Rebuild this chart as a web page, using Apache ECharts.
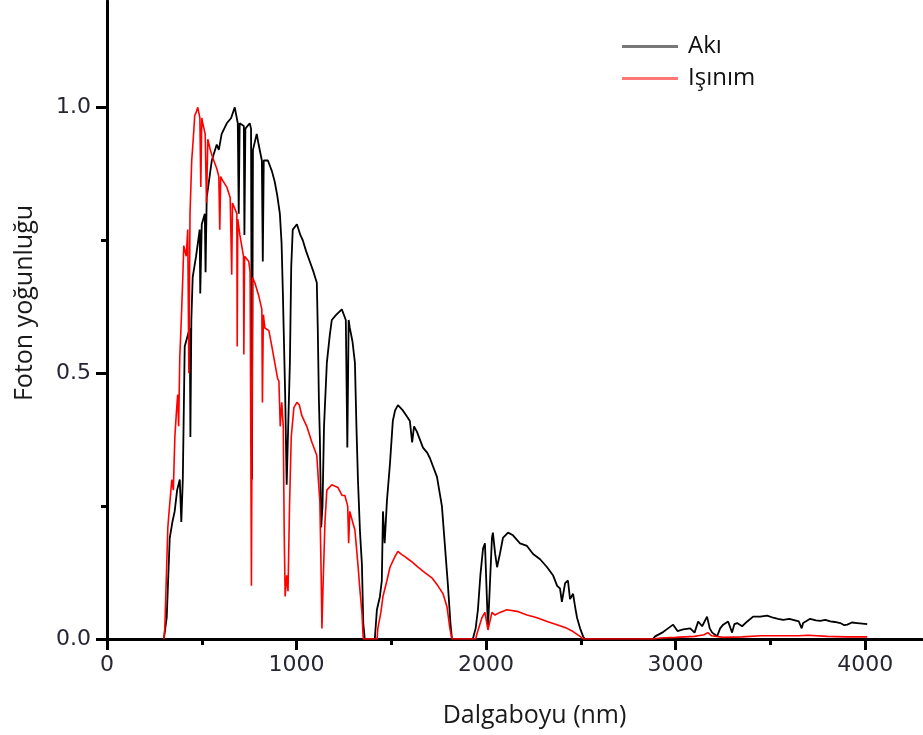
<!DOCTYPE html>
<html>
<head>
<meta charset="utf-8">
<script src="https://cdn.jsdelivr.net/npm/echarts@6.0.0/dist/echarts.min.js"></script>
<style>
html,body{margin:0;padding:0;background:#fff;}
#chart{width:923px;height:735px;}
</style>
</head>
<body>
<div id="chart"></div>
<script>
// Series names
const seriesNames = ['Akı', 'Işınım'];

// Akı (flux) spectrum: [wavelength nm, normalised photon density]
const akiData = [[300,0],[315,0.04],[331,0.19],[345,0.22],[357,0.24],[370,0.28],[384,0.30],[392,0.22],[400,0.30],[410,0.55],[425,0.57],[437,0.585],[440,0.38],[445,0.60],[452,0.68],[470,0.72],[489,0.77],[492,0.65],[500,0.78],[516,0.80],[520,0.69],[526,0.83],[553,0.90],[579,0.93],[590,0.92],[605,0.95],[632,0.97],[655,0.98],[674,1.0],[690,0.97],[695,0.80],[700,0.97],[722,0.965],[725,0.76],[730,0.96],[753,0.97],[760,0.96],[765,0.30],[770,0.92],[790,0.95],[800,0.93],[817,0.90],[822,0.71],[827,0.90],[849,0.90],[870,0.88],[885,0.86],[898,0.835],[912,0.80],[921,0.745],[928,0.65],[932,0.585],[940,0.46],[948,0.29],[956,0.40],[965,0.52],[972,0.70],[980,0.77],[1002,0.78],[1020,0.76],[1033,0.75],[1050,0.73],[1070,0.71],[1090,0.69],[1107,0.67],[1112,0.585],[1118,0.45],[1123,0.38],[1130,0.21],[1137,0.25],[1145,0.40],[1160,0.52],[1175,0.57],[1186,0.60],[1210,0.61],[1239,0.62],[1260,0.60],[1268,0.36],[1275,0.60],[1281,0.585],[1295,0.56],[1308,0.52],[1316,0.40],[1324,0.30],[1335,0.20],[1345,0.14],[1352,0.03],[1360,0],[1413,0],[1424,0.055],[1440,0.08],[1450,0.11],[1456,0.24],[1465,0.18],[1477,0.26],[1493,0.33],[1508,0.41],[1520,0.43],[1535,0.44],[1561,0.43],[1580,0.42],[1598,0.41],[1610,0.37],[1620,0.40],[1635,0.39],[1667,0.36],[1690,0.35],[1704,0.34],[1741,0.305],[1767,0.25],[1783,0.175],[1799,0.10],[1812,0.03],[1820,0],[1930,0],[1945,0.02],[1957,0.055],[1970,0.12],[1984,0.17],[1994,0.18],[2002,0.10],[2010,0.02],[2020,0.10],[2031,0.19],[2036,0.20],[2048,0.16],[2058,0.135],[2073,0.16],[2089,0.19],[2116,0.20],[2142,0.195],[2179,0.18],[2216,0.175],[2248,0.16],[2285,0.15],[2322,0.135],[2353,0.12],[2375,0.10],[2390,0.095],[2400,0.07],[2417,0.105],[2432,0.11],[2443,0.075],[2459,0.085],[2470,0.06],[2480,0.04],[2496,0.02],[2512,0.005],[2520,0],[2880,0],[2892,0.005],[2934,0.013],[2960,0.02],[2987,0.027],[3010,0.015],[3040,0.018],[3077,0.02],[3100,0.012],[3119,0.033],[3140,0.024],[3166,0.042],[3180,0.02],[3193,0.012],[3219,0.005],[3235,0.02],[3251,0.027],[3277,0.033],[3298,0.012],[3310,0.028],[3325,0.03],[3351,0.024],[3378,0.033],[3409,0.042],[3446,0.042],[3483,0.044],[3515,0.04],[3540,0.038],[3568,0.036],[3600,0.038],[3620,0.036],[3650,0.033],[3665,0.02],[3673,0.03],[3710,0.038],[3740,0.035],[3763,0.034],[3790,0.036],[3816,0.033],[3840,0.032],[3869,0.03],[3890,0.026],[3906,0.027],[3930,0.031],[3958,0.03],[3985,0.029],[4011,0.028]];

// Işınım (irradiance) spectrum
const isinimData = [[300,0],[305,0.02],[321,0.21],[330,0.25],[342,0.30],[350,0.28],[358,0.38],[365,0.42],[373,0.46],[378,0.40],[384,0.53],[392,0.60],[400,0.68],[405,0.74],[410,0.74],[418,0.72],[426,0.77],[432,0.50],[438,0.80],[447,0.90],[455,0.94],[463,0.985],[470,0.99],[479,1.0],[490,0.98],[495,0.85],[500,0.98],[505,0.97],[518,0.95],[525,0.82],[532,0.94],[545,0.92],[558,0.905],[579,0.885],[590,0.87],[595,0.77],[600,0.87],[606,0.865],[632,0.85],[650,0.83],[658,0.685],[662,0.82],[685,0.80],[687,0.55],[690,0.79],[701,0.76],[720,0.72],[722,0.535],[726,0.72],[748,0.71],[755,0.69],[762,0.10],[768,0.68],[780,0.67],[801,0.645],[817,0.62],[820,0.445],[825,0.61],[833,0.585],[854,0.58],[870,0.55],[885,0.52],[900,0.49],[907,0.485],[914,0.40],[922,0.445],[930,0.40],[935,0.20],[940,0.08],[948,0.12],[955,0.09],[963,0.25],[972,0.38],[986,0.435],[1002,0.445],[1015,0.44],[1028,0.42],[1054,0.40],[1081,0.37],[1107,0.345],[1115,0.30],[1123,0.26],[1130,0.12],[1134,0.02],[1140,0.10],[1150,0.22],[1160,0.28],[1186,0.29],[1218,0.285],[1240,0.27],[1255,0.27],[1270,0.25],[1275,0.18],[1281,0.24],[1300,0.215],[1308,0.205],[1324,0.14],[1335,0.09],[1345,0.05],[1352,0],[1425,0],[1429,0.02],[1445,0.05],[1456,0.08],[1477,0.11],[1493,0.135],[1519,0.155],[1535,0.165],[1550,0.16],[1572,0.155],[1590,0.15],[1609,0.145],[1641,0.135],[1677,0.125],[1714,0.115],[1746,0.10],[1773,0.085],[1794,0.06],[1809,0.02],[1820,0],[1945,0],[1952,0.01],[1978,0.04],[1994,0.05],[2010,0.017],[2031,0.05],[2047,0.045],[2073,0.05],[2110,0.055],[2163,0.052],[2216,0.045],[2269,0.04],[2322,0.033],[2374,0.027],[2427,0.02],[2459,0.014],[2496,0.005],[2512,0],[2880,0],[2920,0.002],[3000,0.003],[3100,0.005],[3150,0.008],[3170,0.012],[3190,0.006],[3250,0.003],[3350,0.004],[3450,0.006],[3550,0.006],[3650,0.006],[3700,0.007],[3800,0.005],[3900,0.004],[4011,0.004]];

// Tick values
const xMajorTicks = [0, 1000, 2000, 3000, 4000];
const xMinorTicks = [500, 1500, 2500, 3500];
const yMajorTicks = [0, 0.5, 1.0];
const yMinorTicks = [0.25, 0.75];

const xName = 'Dalgaboyu (nm)';
const yName = 'Foton yoğunluğu';

const chart = echarts.init(document.getElementById('chart'), null, {renderer: 'canvas'});

const axisColor = '#000';
const labelColor = '#262633';
const tickFont = 'DejaVu Sans, sans-serif';
const nameFont = 'Open Sans, Noto Sans, sans-serif';

const option = {
  animation: false,
  backgroundColor: '#fff',
  grid: {left: 107, right: 1, top: 1, bottom: 96, containLabel: false},
  legend: {
    orient: 'vertical',
    left: 617,
    top: 28,
    itemWidth: 56,
    itemHeight: 3,
    itemGap: 5,
    data: [
      {name: seriesNames[0], icon: 'rect', itemStyle: {color: '#777'}},
      {name: seriesNames[1], icon: 'rect', itemStyle: {color: '#f77'}}
    ],
    textStyle: {fontSize: 24, fontFamily: nameFont, color: '#111', lineHeight: 27, padding: [0, 0, 0, 5]}
  },
  xAxis: [
    {
      type: 'value', min: 0, max: 4300, position: 'bottom',
      axisLine: {show: true, onZero: false, lineStyle: {color: axisColor, width: 3}},
      axisTick: {show: true, customValues: xMajorTicks, length: 11, lineStyle: {color: axisColor, width: 3}},
      axisLabel: {show: true, customValues: xMajorTicks, margin: 15, fontSize: 22, color: labelColor, fontFamily: tickFont,
        formatter: function (v) { return String(Math.round(v)); }},
      splitLine: {show: false},
      name: xName, nameLocation: 'middle', nameGap: 64,
      nameTextStyle: {fontSize: 25, fontFamily: nameFont, color: '#1a1a1a', padding: [0, 0, 0, 40]}
    },
    {
      type: 'value', min: 0, max: 4300, position: 'bottom',
      axisLine: {show: false, onZero: false},
      axisTick: {show: true, customValues: xMinorTicks, length: 6, lineStyle: {color: axisColor, width: 3}},
      axisLabel: {show: false},
      splitLine: {show: false}
    }
  ],
  yAxis: [
    {
      type: 'value', min: 0, max: 1.2, position: 'left',
      axisLine: {show: true, onZero: false, lineStyle: {color: axisColor, width: 3}},
      axisTick: {show: true, customValues: yMajorTicks, length: 11, lineStyle: {color: axisColor, width: 3}},
      axisLabel: {show: true, customValues: yMajorTicks, margin: 16, fontSize: 22, color: labelColor, fontFamily: tickFont,
        formatter: function (v) { return Number(v).toFixed(1); }},
      splitLine: {show: false},
      name: yName, nameLocation: 'middle', nameGap: 70,
      nameTextStyle: {fontSize: 25, fontFamily: nameFont, color: '#1a1a1a', padding: [0, 0, 0, 34]}
    },
    {
      type: 'value', min: 0, max: 1.2, position: 'left', offset: 0,
      axisLine: {show: false, onZero: false},
      axisTick: {show: true, customValues: yMinorTicks, length: 6, lineStyle: {color: axisColor, width: 3}},
      axisLabel: {show: false},
      splitLine: {show: false}
    }
  ],
  series: [
    {
      name: seriesNames[0], type: 'line', xAxisIndex: 0, yAxisIndex: 0,
      data: akiData, symbol: 'none', showSymbol: false,
      lineStyle: {color: '#000', width: 1.8}, itemStyle: {color: '#777'}, z: 2
    },
    {
      name: seriesNames[1], type: 'line', xAxisIndex: 0, yAxisIndex: 0,
      data: isinimData, symbol: 'none', showSymbol: false,
      lineStyle: {color: '#ff0000', width: 1.6}, itemStyle: {color: '#f77'}, z: 3
    }
  ]
};
chart.setOption(option);
</script>
</body>
</html>
